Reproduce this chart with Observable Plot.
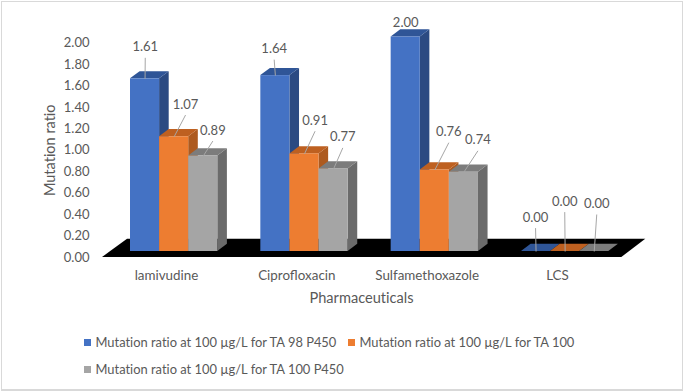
<!DOCTYPE html>
<html>
<head>
<meta charset="utf-8">
<script src="https://cdn.jsdelivr.net/npm/d3@7"></script>
<script src="https://cdn.jsdelivr.net/npm/@observablehq/plot@0.6"></script>
<style>
  html, body { margin: 0; padding: 0; background: #fff; overflow: hidden; }
  #page { position: relative; width: 684px; height: 392px; font-family: Lato, sans-serif; color: #595959; font-variant-ligatures: none; }
  #frame { position: absolute; left: 1px; top: 1px; width: 680px; height: 387px; border: 1px solid #d9d9d9; border-bottom-width: 2px; }
  #chart { position: absolute; left: 0; top: 0; }
  #chart svg { display: block; font-variant-ligatures: none; }
  .row { position: absolute; font-size: 12.9px; line-height: 16px; white-space: nowrap; }
  .sw { position: absolute; width: 7px; height: 7px; top: 4.5px; }
</style>
</head>
<body>
<div id="page"><div id="frame"></div><div id="chart"></div><div id="legend"></div></div>
<script>
// Data
const categories = ["lamivudine", "Ciprofloxacin", "Sulfamethoxazole", "LCS"];
const seriesNames = [
  "Mutation ratio at 100 µg/L for TA 98 P450",
  "Mutation ratio at 100 µg/L for TA 100",
  "Mutation ratio at 100 µg/L for TA 100 P450"
];
const ta98p450 = [1.61, 1.64, 2.00, 0.00];
const ta100 = [1.07, 0.91, 0.76, 0.00];
const ta100p450 = [0.89, 0.77, 0.74, 0.00];
const yTicks = [0, 0.2, 0.4, 0.6, 0.8, 1, 1.2, 1.4, 1.6, 1.8, 2];

// Styling of the pseudo-3D faces
const frontColors = ["#4472C4", "#ED7D31", "#A5A5A5"];
const sideColors = ["#2B4A82", "#AD5A1F", "#6B6B6B"];
const topColors = ["#2F5597", "#BE6020", "#7C7C7C"];
const textColor = "#595959";

// Layout, in pixels, converted to scale units below
const W = 684, H = 315;
const xRange = [130, 651.33], yRange = [257, 42.5];
const pxX = (xRange[1] - xRange[0]) / 4, pxY = (yRange[0] - yRange[1]) / 2;
const barW = 29.1 / pxX, depthX = 9.6 / pxX, depthY = 7.2 / pxY, lift = 6 / pxY;
const labelLean = [[0.2, 11.4, 9.6], [-1.2, 10.6, 9.2], [0, 14, 14], [-0.5, -0.4, 2.5]];
const labelRise = [[21, 21.7, 15], [16, 22.7, 21], [3.7, 27.3, 21.3], [23.4, 39.4, 37]];

const values = [ta98p450, ta100, ta100p450];
const bars = values.map((vals, s) => vals.map((v, g) => {
  const x1 = g + s * barW, x2 = x1 + barW, top = v + lift;
  return {g, s, v, x1, x2, top, id: g};
}));

const marks = [];

// Floor
const floorPts = [
  {y: 0, x1: (102 - 130) / pxX, x2: (621.3 - 130) / pxX},
  {y: 18.2 / pxY, x1: (127 - 130) / pxX, x2: (645.3 - 130) / pxX}
];
marks.push(Plot.areaX(floorPts, {y: "y", x1: "x1", x2: "x2", fill: "#000"}));

// Bars, series by series, so that each one overlaps the side of the previous
bars.forEach((rows, s) => {
  const side = rows.flatMap(d => [
    {id: d.g, x: d.x2, y1: lift, y2: d.top},
    {id: d.g, x: d.x2 + depthX, y1: lift + depthY, y2: d.top + depthY}
  ]);
  const topFace = rows.flatMap(d => [
    {id: d.g, y: d.top, x1: d.x1, x2: d.x2},
    {id: d.g, y: d.top + depthY, x1: d.x1 + depthX, x2: d.x2 + depthX}
  ]);
  marks.push(
    Plot.areaY(side, {x: "x", y1: "y1", y2: "y2", z: "id", fill: sideColors[s]}),
    Plot.areaX(topFace, {y: "y", x1: "x1", x2: "x2", z: "id", fill: topColors[s]}),
    Plot.rect(rows, {x1: "x1", x2: "x2", y1: lift, y2: "top", fill: frontColors[s]})
  );
});

// Leader lines and data labels
const labels = bars.flat().map(d => {
  const cx = (d.x1 + d.x2) / 2;
  return {
    v: d.v,
    x1: cx, y1: d.top,
    x2: cx + labelLean[d.g][d.s] / pxX,
    y2: d.top + labelRise[d.g][d.s] / pxY,
    leader: labelRise[d.g][d.s] > 5
  };
});
marks.push(
  Plot.link(labels.filter(d => d.leader), {x1: "x1", y1: "y1", x2: "x2", y2: "y2", stroke: "#A6A6A6", strokeWidth: 1}),
  Plot.text(labels, {x: "x2", y: "y2", dy: -10.7, text: d => d.v.toFixed(2), fill: textColor, fontSize: 13})
);

// Axes
const tickCentre = 0.276;
marks.push(
  Plot.axisY({
    ticks: yTicks, tickFormat: d3.format(".2f"), tickSize: 0, tickPadding: 0,
    label: null, fill: textColor, fontSize: 13
  }),
  Plot.text(["Mutation ratio"], {frameAnchor: "left", textAnchor: "middle", dx: -39, rotate: -90, text: d => d, fill: textColor, fontSize: 14.5}),
  Plot.axisX({
    ticks: categories.map((c, i) => i + tickCentre),
    tickFormat: d => categories[Math.round(d - tickCentre)],
    tickSize: 0, tickPadding: 13, label: null, fill: textColor, fontSize: 13.4
  }),
  Plot.text(["Pharmaceuticals"], {frameAnchor: "bottom", dy: 45, text: d => d, fill: textColor, fontSize: 14.6})
);

const chart = Plot.plot({
  width: W, height: H,
  marginLeft: 89, marginRight: 51, marginTop: 42.5, marginBottom: 58,
  x: {domain: [0, 4], range: xRange},
  y: {domain: [0, 2], range: yRange},
  style: {background: "transparent", fontFamily: "Lato, sans-serif", overflow: "visible"},
  marks
});
document.getElementById("chart").appendChild(chart);

// Legend below the SVG
const legend = document.getElementById("legend");
const legendLayout = [{x: 84, y: 334}, {x: 348, y: 334}, {x: 84, y: 361}];
seriesNames.forEach((name, i) => {
  const row = document.createElement("div");
  row.className = "row";
  row.style.left = legendLayout[i].x + "px";
  row.style.top = legendLayout[i].y + "px";
  const sw = document.createElement("span");
  sw.className = "sw";
  sw.style.background = frontColors[i];
  sw.style.left = "0";
  const t = document.createElement("span");
  t.textContent = name;
  t.style.marginLeft = "11.5px";
  row.append(sw, t);
  legend.appendChild(row);
});
</script>
</body>
</html>
